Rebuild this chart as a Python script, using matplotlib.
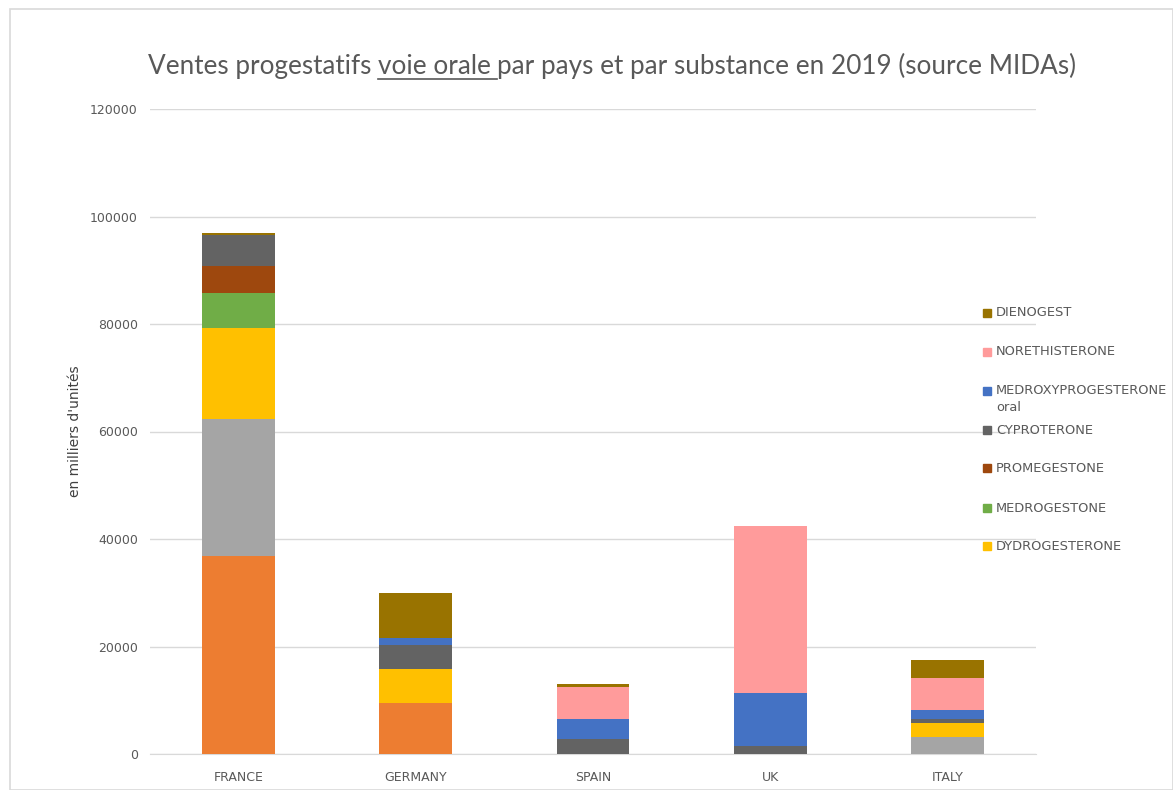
import matplotlib
matplotlib.use("Agg")
import matplotlib.pyplot as plt
from matplotlib.patches import Rectangle
import numpy as np

countries = ["FRANCE", "GERMANY", "SPAIN", "UK", "ITALY"]

# stacked series, bottom to top (values in thousands of units)
progesterone = [36900, 9400, 0, 0, 0]
chlormadinone = [25500, 0, 0, 0, 3200]
dydrogesterone = [16800, 6400, 0, 0, 2500]
medrogestone = [6600, 0, 0, 0, 0]
promegestone = [4900, 0, 0, 0, 0]
cyproterone = [5900, 4500, 2800, 1400, 900]
medroxyprogesterone = [0, 1200, 3800, 9900, 1500]
norethisterone = [0, 0, 5900, 31100, 6000]
dienogest = [300, 8500, 500, 0, 3400]

series_names = ["PROGESTERONE", "CHLORMADINONE", "DYDROGESTERONE", "MEDROGESTONE",
                "PROMEGESTONE", "CYPROTERONE", "MEDROXYPROGESTERONE\noral",
                "NORETHISTERONE", "DIENOGEST"]
series_values = [progesterone, chlormadinone, dydrogesterone, medrogestone,
                 promegestone, cyproterone, medroxyprogesterone, norethisterone, dienogest]
series_colors = ["#ED7D31", "#A5A5A5", "#FFC000", "#70AD47", "#9E480E",
                 "#636363", "#4472C4", "#FF9B9B", "#997300"]
legend_shown = [False, False, True, True, True, True, True, True, True]

yticks = [0, 20000, 40000, 60000, 80000, 100000, 120000]

W, H = 1173, 790
fig = plt.figure(figsize=(W / 100, H / 100), dpi=100)
fig.patch.set_facecolor("white")
fig.patches.append(Rectangle((10 / W, 0), (W - 10) / W, (H - 9) / H, transform=fig.transFigure,
                             fill=False, edgecolor="#D9D9D9", linewidth=1.2))

ax = fig.add_axes([150 / W, 1 - 754 / H, (1036 - 150) / W, (754 - 109) / H])
x = np.arange(len(countries))
bottom = np.zeros(len(countries))
for name, vals, col in zip(series_names, series_values, series_colors):
    vals = np.array(vals, dtype=float)
    ax.bar(x, vals, 0.41, bottom=bottom, color=col, label=name, zorder=3)
    bottom += vals

ax.set_xlim(-0.5, len(countries) - 0.5)
ax.set_ylim(0, 120000)
ax.set_yticks(yticks)
ax.set_yticklabels([str(v) for v in yticks])
ax.set_xticks(x)
ax.set_xticklabels(countries)
ax.tick_params(axis="both", length=0, labelsize=9, colors="#595959")
ax.tick_params(axis="y", pad=8.7)
ax.tick_params(axis="x", pad=12)
ax.grid(axis="y", color="#D9D9D9", linewidth=1, zorder=0)
for s in ["top", "right", "left"]:
    ax.spines[s].set_visible(False)
ax.spines["bottom"].set_color("#D9D9D9")
ax.set_facecolor("none")
ax.set_ylabel("en milliers d'unités", fontsize=10, color="#404040", labelpad=6)

# title with underlined part
parts = ["Ventes progestatifs ", "voie orale ", "par pays et par substance en 2019 (source MIDAs)"]
fig.canvas.draw()
r = fig.canvas.get_renderer()
fs = 17
full = fig.text(0, 0, "".join(parts), fontsize=fs, family="Lato")
wfull = full.get_window_extent(r).width
full.remove()
fs = fs * 928 / wfull
tfont = dict(fontsize=fs, color="#595959", family="Lato")
full = fig.text(0, 0, "".join(parts), **tfont)
wfull = full.get_window_extent(r).width
full.remove()
xstart = 612 - wfull / 2
ybase = H - 74
xcur = xstart
for i, p in enumerate(parts):
    t = fig.text(xcur / W, ybase / H, p, va="baseline", ha="left", **tfont)
    ext = t.get_window_extent(r)
    if i == 1:
        fig.add_artist(plt.Line2D([xcur / W, (xcur + ext.width) / W],
                                  [(ybase - 5) / H, (ybase - 5) / H],
                                  transform=fig.transFigure, color="#595959", linewidth=1.2))
    xcur += ext.width

# legend (top to bottom)
leg_y = [313, 352, 391, 430, 468, 508, 546]
idx = [i for i in range(len(series_names)) if legend_shown[i]][::-1]
for yy, i in zip(leg_y, idx):
    fig.patches.append(Rectangle((983 / W, 1 - (yy + 4) / H), 8 / W, 8 / H,
                                 transform=fig.transFigure, color=series_colors[i]))
    if "\n" in series_names[i]:
        fig.text(996 / W, 1 - (yy - 7) / H, series_names[i], fontsize=9.4, color="#595959",
                 va="top", ha="left", linespacing=1.45)
    else:
        fig.text(996 / W, 1 - yy / H, series_names[i], fontsize=9.4, color="#595959",
                 va="center", ha="left")

fig.savefig("out.png", dpi=100)
